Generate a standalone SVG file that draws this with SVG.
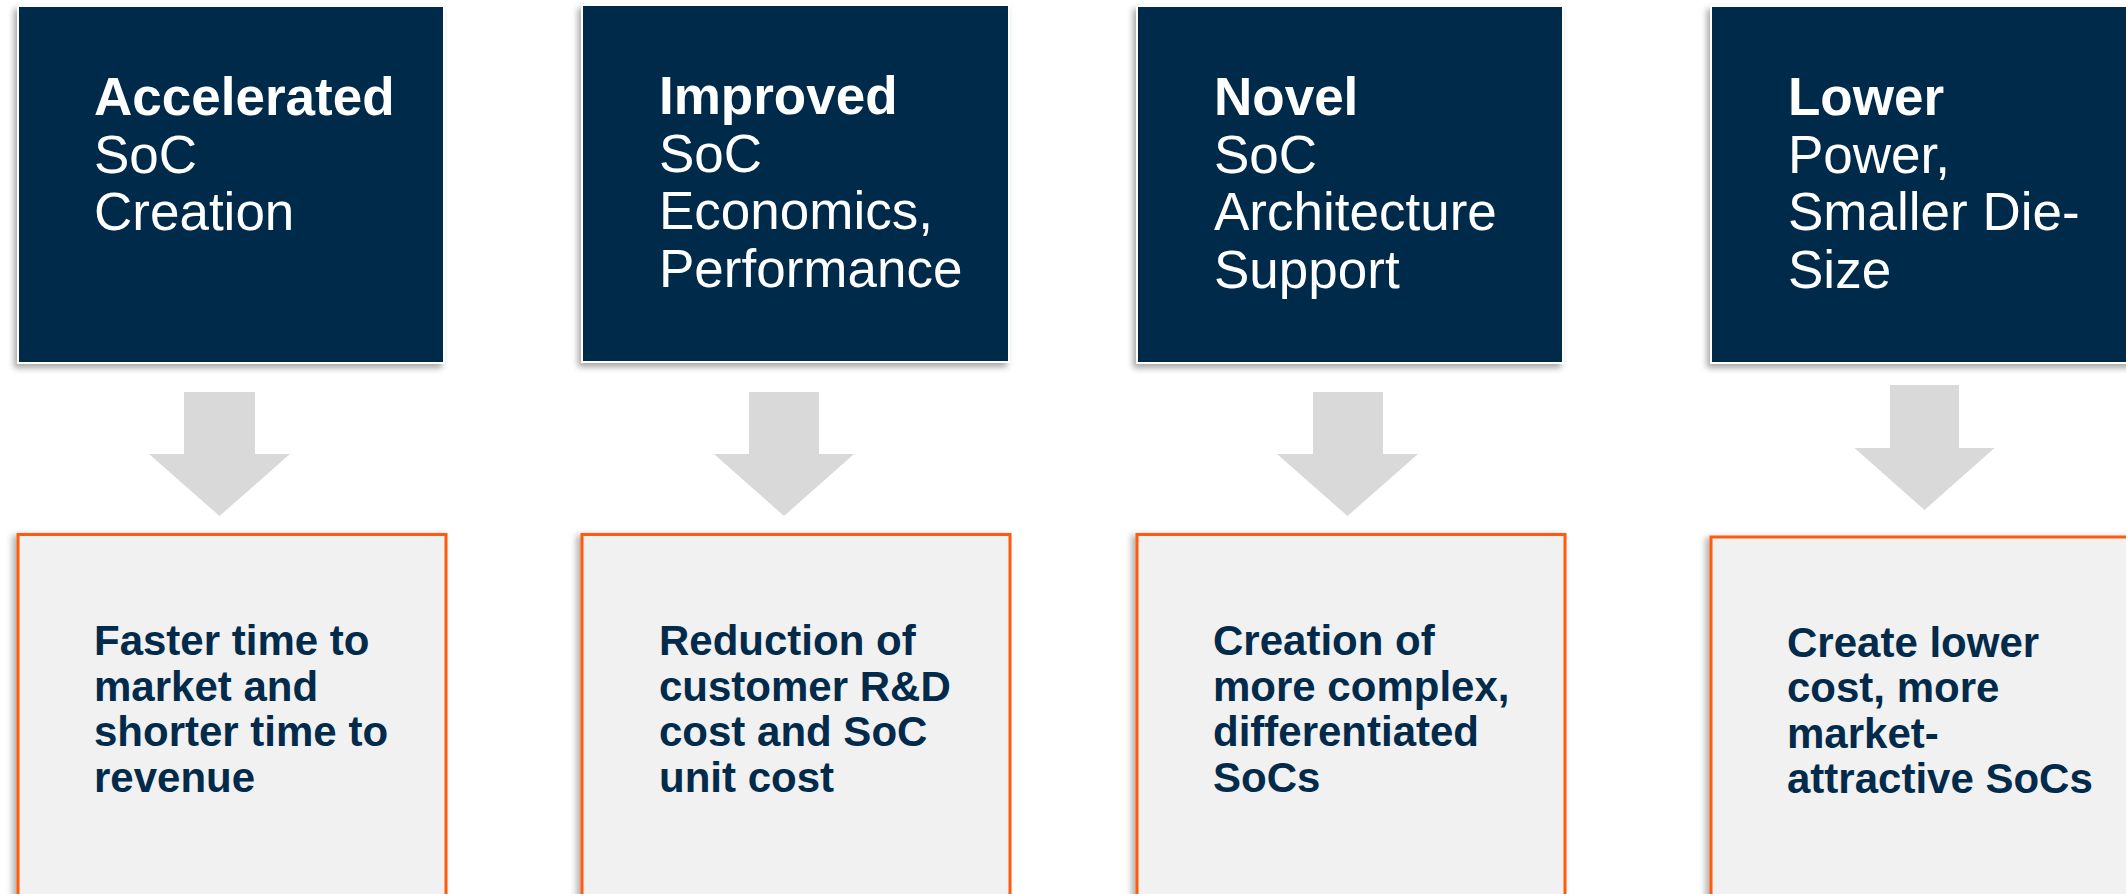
<svg xmlns="http://www.w3.org/2000/svg" width="2126" height="894" viewBox="0 0 2126 894">
<defs>
<filter id="sh" x="-10%" y="-10%" width="120%" height="120%">
<feDropShadow dx="-3" dy="4" stdDeviation="3" flood-color="#000" flood-opacity="0.35"/>
</filter>
<filter id="sh2" x="-10%" y="-10%" width="120%" height="120%">
<feDropShadow dx="-4" dy="2" stdDeviation="3" flood-color="#000" flood-opacity="0.3"/>
</filter>
</defs>
<style>
.top{fill:#022a4a;stroke:#ffffff;stroke-width:2;filter:url(#sh)}
.bot{fill:#f1f1f1;stroke:#ff5a0a;stroke-width:3;filter:url(#sh2)}
.tt{font-family:"Liberation Sans",Arial,sans-serif;font-size:53px;fill:#ffffff}
.tb{font-weight:bold}
.bt{font-family:"Liberation Sans",Arial,sans-serif;font-size:42px;font-weight:bold;fill:#022a4a}
.arr{fill:#d9d9d9}
</style>
<rect width="2126" height="894" fill="#ffffff"/>
<g id="top1">
<rect class="top" x="18" y="6" width="426" height="357"/>
<text class="tt" x="94" y="115"><tspan class="tb">Accelerated</tspan><tspan x="94" y="172.5">SoC</tspan><tspan x="94" y="230">Creation</tspan></text>
</g>
<g id="top2">
<rect class="top" x="582" y="5" width="427" height="357"/>
<text class="tt" x="659" y="114"><tspan class="tb">Improved</tspan><tspan x="659" y="171.5">SoC</tspan><tspan x="659" y="229">Economics,</tspan><tspan x="659" y="286.5">Performance</tspan></text>
</g>
<g id="top3">
<rect class="top" x="1137" y="6" width="426" height="357"/>
<text class="tt" x="1214" y="115"><tspan class="tb">Novel</tspan><tspan x="1214" y="172.5">SoC</tspan><tspan x="1214" y="230">Architecture</tspan><tspan x="1214" y="287.5">Support</tspan></text>
</g>
<g id="top4">
<rect class="top" x="1711" y="6" width="426" height="357"/>
<text class="tt" x="1788" y="115"><tspan class="tb">Lower</tspan><tspan x="1788" y="172.5">Power,</tspan><tspan x="1788" y="230">Smaller Die-</tspan><tspan x="1788" y="287.5">Size</tspan></text>
</g>
<g id="connectors">
<polygon class="arr" points="184,392 255,392 255,454 290,454 219.5,516 149,454 184,454"/>
<polygon class="arr" points="749,392 819,392 819,454 854,454 784,516 714,454 749,454"/>
<polygon class="arr" points="1313,392 1383,392 1383,454 1418,454 1347.5,516 1277,454 1313,454"/>
<polygon class="arr" points="1890,385 1959,385 1959,448 1994.5,448 1924.5,510 1854.5,448 1890,448"/>
</g>
<g id="bot1">
<rect class="bot" x="18" y="534.5" width="428" height="380"/>
<text class="bt" x="94" y="655"><tspan>Faster time to</tspan><tspan x="94" y="700.5">market and</tspan><tspan x="94" y="746">shorter time to</tspan><tspan x="94" y="791.5">revenue</tspan></text>
</g>
<g id="bot2">
<rect class="bot" x="582" y="534.5" width="428" height="380"/>
<text class="bt" x="659" y="655"><tspan>Reduction of</tspan><tspan x="659" y="700.5">customer R&amp;D</tspan><tspan x="659" y="746">cost and SoC</tspan><tspan x="659" y="791.5">unit cost</tspan></text>
</g>
<g id="bot3">
<rect class="bot" x="1137" y="534.5" width="428" height="380"/>
<text class="bt" x="1213" y="655"><tspan>Creation of</tspan><tspan x="1213" y="700.5">more complex,</tspan><tspan x="1213" y="746">differentiated</tspan><tspan x="1213" y="791.5">SoCs</tspan></text>
</g>
<g id="bot4">
<rect class="bot" x="1711" y="537" width="428" height="380"/>
<text class="bt" x="1787" y="656.5"><tspan>Create lower</tspan><tspan x="1787" y="702">cost, more</tspan><tspan x="1787" y="747.5">market-</tspan><tspan x="1787" y="793">attractive SoCs</tspan></text>
</g>
</svg>
